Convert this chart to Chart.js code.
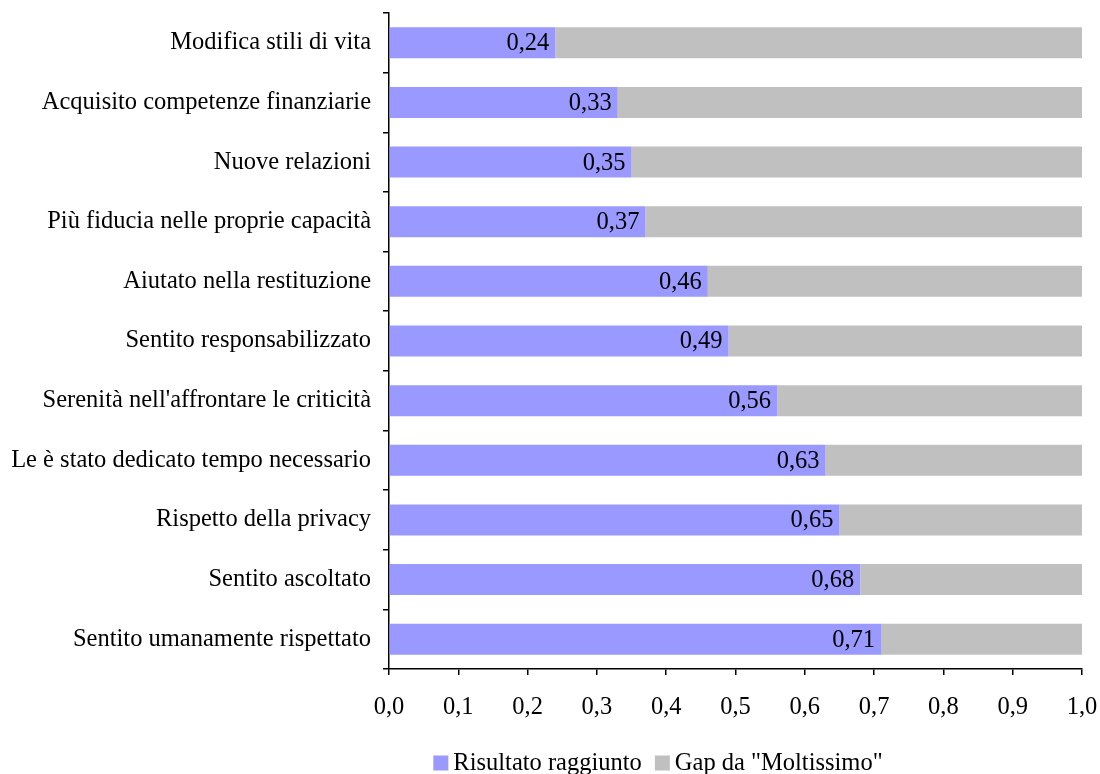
<!DOCTYPE html>
<html>
<head>
<meta charset="utf-8">
<script src="https://cdn.jsdelivr.net/npm/chart.js@4.4.1/dist/chart.umd.min.js"></script>
<style>
  html, body { margin: 0; padding: 0; background: #fff; }
  #wrap { width: 1100px; height: 774px; }
</style>
</head>
<body>
<div id="wrap"><canvas id="myChart" width="1100" height="774"></canvas></div>
<script>
// categories, top to bottom
var labels = [
  'Modifica stili di vita',
  'Acquisito competenze finanziarie',
  'Nuove relazioni',
  'Più fiducia nelle proprie capacità',
  'Aiutato nella restituzione',
  'Sentito responsabilizzato',
  "Serenità nell'affrontare le criticità",
  'Le è stato dedicato tempo necessario',
  'Rispetto della privacy',
  'Sentito ascoltato',
  'Sentito umanamente rispettato'
];

// result reached
var risultato = [0.24, 0.33, 0.35, 0.37, 0.46, 0.49, 0.56, 0.63, 0.65, 0.68, 0.71];

// gap up to "Moltissimo" (1,0)
var gap = risultato.map(function(v) {
  return Math.round((1 - v) * 100) / 100;
});

var xTicks = [0, 0.1, 0.2, 0.3, 0.4, 0.5, 0.6, 0.7, 0.8, 0.9, 1.0];

var FONT = '"Liberation Serif", serif';
var SIZE = 24.5;

function comma(v, d) {
  return v.toFixed(d).replace('.', ',');
}

// write the value at the end of each blue bar
var valueLabels = {
  id: 'valueLabels',
  afterDatasetsDraw: function(chart) {
    var ctx = chart.ctx;
    var meta = chart.getDatasetMeta(0);
    ctx.save();
    ctx.font = SIZE + 'px ' + FONT;
    ctx.fillStyle = '#000';
    ctx.textAlign = 'right';
    ctx.textBaseline = 'middle';
    meta.data.forEach(function(bar, i) {
      ctx.fillText(comma(risultato[i], 2), bar.x - 6, bar.y + 1);
    });
    ctx.restore();
  }
};

// legend at the bottom: square box then the label, tight spacing
var bottomLegend = {
  id: 'bottomLegend',
  afterDraw: function(chart) {
    var ctx = chart.ctx;
    var sets = chart.data.datasets;
    var box = 15, gapText = 5, gapItem = 13;
    ctx.save();
    ctx.font = SIZE + 'px ' + FONT;
    ctx.textBaseline = 'middle';
    ctx.textAlign = 'left';
    var total = 0;
    sets.forEach(function(ds, i) {
      total += box + gapText + ctx.measureText(ds.label).width;
      if (i < sets.length - 1) total += gapItem;
    });
    var x = 658 - total / 2;
    var y = 763;
    sets.forEach(function(ds) {
      ctx.fillStyle = ds.backgroundColor;
      ctx.fillRect(x, y - box / 2, box, box);
      x += box + gapText;
      ctx.fillStyle = '#000';
      ctx.fillText(ds.label, x, y + 1);
      x += ctx.measureText(ds.label).width + gapItem;
    });
    ctx.restore();
  }
};

var ctx = document.getElementById('myChart').getContext('2d');
var myChart = new Chart(ctx, {
  type: 'bar',
  data: {
    labels: labels,
    datasets: [
      {
        label: 'Risultato raggiunto',
        data: risultato,
        backgroundColor: '#9999FF',
        barPercentage: 0.52,
        categoryPercentage: 1.0
      },
      {
        label: 'Gap da "Moltissimo"',
        data: gap,
        backgroundColor: '#C0C0C0',
        barPercentage: 0.52,
        categoryPercentage: 1.0
      }
    ]
  },
  plugins: [valueLabels, bottomLegend],
  options: {
    indexAxis: 'y',
    responsive: false,
    animation: false,
    layout: { padding: { top: 13, right: 18, bottom: 55, left: 0 } },
    plugins: {
      legend: { display: false },
      tooltip: { enabled: false }
    },
    scales: {
      x: {
        stacked: true,
        min: 0,
        max: 1,
        afterBuildTicks: function(axis) {
          axis.ticks = xTicks.map(function(v) { return { value: v }; });
        },
        afterFit: function(axis) {
          axis.height = 50;
          axis.paddingLeft = 0;
          axis.paddingRight = 0;
        },
        ticks: {
          font: { family: FONT, size: SIZE },
          color: '#000',
          padding: 18,
          maxRotation: 0,
          callback: function(v) { return comma(v, 1); }
        },
        grid: {
          drawOnChartArea: false,
          drawTicks: true,
          tickLength: 6,
          color: '#000',
          lineWidth: 1.5
        },
        border: { color: '#000', width: 1.5 }
      },
      y: {
        stacked: true,
        afterFit: function(axis) {
          axis.width = 389;
          axis.paddingTop = 0;
          axis.paddingBottom = 0;
        },
        ticks: {
          font: { family: FONT, size: SIZE },
          color: '#000',
          padding: 12
        },
        grid: {
          offset: true,
          drawOnChartArea: false,
          drawTicks: true,
          tickLength: 6,
          color: '#000',
          lineWidth: 1.5
        },
        border: { color: '#000', width: 1.5 }
      }
    }
  }
});
</script>
</body>
</html>
